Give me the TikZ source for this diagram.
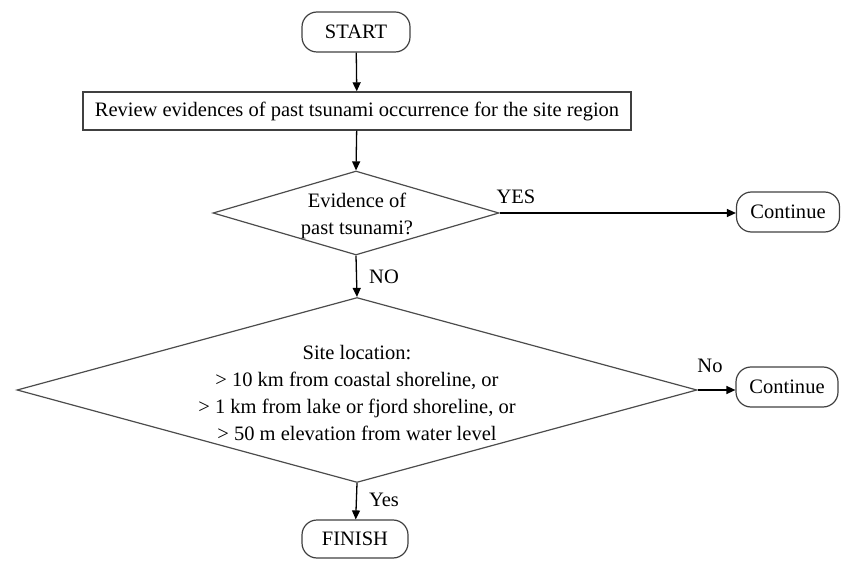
\documentclass[tikz,border=0pt]{standalone}
\usepackage{fontspec}
\setmainfont{Liberation Serif}
\usetikzlibrary{arrows.meta,shapes.geometric}
\begin{document}
\begin{tikzpicture}[x=1bp,y=-1bp,
  every node/.style={font=\fontsize{20.5bp}{26.7bp}\selectfont},
  term/.style={draw=black!75, line width=1.2bp, rounded corners=15bp, inner sep=0pt},
  procbox/.style={draw=black!75, line width=1.4bp, inner sep=0pt},
  dia/.style={draw=black!70, line width=1.2bp, diamond, inner sep=0pt, aspect=3.4},
  conn/.style={line width=1.3bp, -{Triangle[length=9bp,width=8bp]}},
  lbl/.style={inner sep=0pt}
]
\useasboundingbox (0,0) rectangle (841,561);
\node[term, minimum width=108bp, minimum height=40bp] (start) at (356,32) {START};
\node[procbox, minimum width=548bp, minimum height=38bp] (review) at (357,111) {Review evidences of past tsunami occurrence for the site region};
\node[dia, minimum width=286bp, minimum height=84bp] (d1) at (356,213) {};
\node[align=center, inner sep=0pt] (t1) at (357,216) {Evidence of\\past tsunami?};
\node[term, minimum width=103bp, minimum height=40bp] (c1) at (788,212) {Continue};
\node[dia, minimum width=680bp, minimum height=185bp] (d2) at (357,390) {};
\node[align=center, inner sep=0pt] (t2) at (357,393) {Site location:\\> 10 km from coastal shoreline, or\\> 1 km from lake or fjord shoreline, or\\> 50 m elevation from water level};
\node[term, minimum width=102bp, minimum height=40bp] (c2) at (787,387) {Continue};
\node[term, minimum width=106bp, minimum height=38bp] (finish) at (355,539) {FINISH};
\draw[conn] (start) -- (review);
\draw[conn] (review) -- (d1.north);
\draw[conn] (d1.south) -- (d2.north);
\draw[conn] (d2.south) -- (finish);
\draw[conn] (d1.east) -- (d1.east -| c1.west);
\draw[conn] (d2.east) -- (d2.east -| c2.west);
\node[lbl] (yes1) at (516,197) {YES};
\node[lbl] (no1) at (384,277) {NO};
\node[lbl] (no2) at (710,366) {No};
\node[lbl] (yes2) at (384,500) {Yes};
\end{tikzpicture}
\end{document}
